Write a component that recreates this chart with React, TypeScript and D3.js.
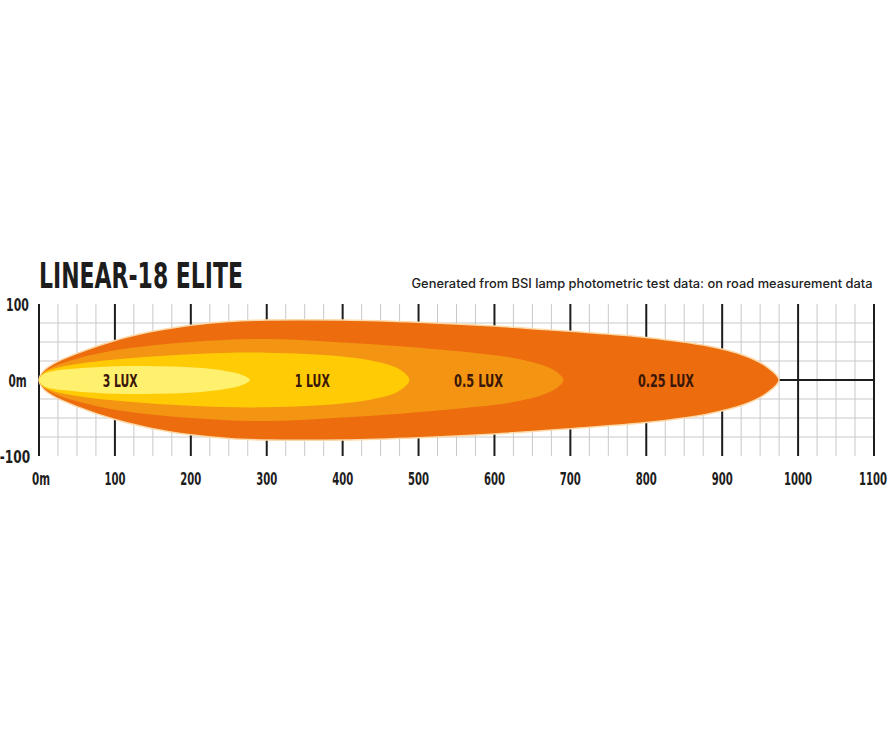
import React from "react";
import * as d3 from "d3";

// ---- data ----
const title = "LINEAR-18 ELITE";
const subtitle = "Generated from BSI lamp photometric test data: on road measurement data";
const xTicks = [0, 100, 200, 300, 400, 500, 600, 700, 800, 900, 1000, 1100];
const xTickLabels = ["0m", "100", "200", "300", "400", "500", "600", "700", "800", "900", "1000", "1100"];
const yTicks = [100, 0, -100];
const yTickLabels = ["100", "0m", "-100"];

// [distance (m), half-width (m)]
const lux025: [number, number][] = [
  [0, 0], [6, 12], [20, 22], [50, 35], [100, 52], [150, 64], [200, 72], [250, 77],
  [300, 79], [400, 79], [500, 76], [600, 71], [700, 64], [800, 56], [880, 45],
  [930, 32], [958, 18], [975, 0],
];
const lux05: [number, number][] = [
  [0, 0], [6, 10], [20, 18], [50, 28], [100, 39], [200, 50], [300, 54], [390, 50],
  [480, 44], [580, 35], [625, 29], [665, 19], [683, 10], [691, 0],
];
const lux1: [number, number][] = [
  [0, 0], [6, 9], [20, 15], [50, 21], [100, 27], [200, 34], [300, 36], [400, 31],
  [450, 23], [475, 14], [488, 0],
];
const lux3: [number, number][] = [
  [0, 0], [6, 8], [20, 12], [50, 15], [100, 18], [160, 18], [210, 16], [245, 12],
  [267, 7], [278, 0],
];
const zoneNames = ["0.25 LUX", "0.5 LUX", "1 LUX", "3 LUX"];
const zoneData = [lux025, lux05, lux1, lux3];
const zoneLabelAt = [826, 579, 360, 107];

const zoneColors = ["#EC6C0E", "#F39412", "#FFCB05", "#FFF06E"];

const W = 893;
const H = 744;
const condensed = "'Liberation Sans Narrow', 'DejaVu Sans Condensed', 'Roboto Condensed', 'Liberation Sans', sans-serif";

export default function App() {
  const x = d3.scaleLinear().domain([0, 1100]).range([39, 874]);
  const y = d3.scaleLinear().domain([-100, 100]).range([456, 304]);

  const minorX = d3.range(0, 1101, 25);
  const minorY = d3.range(-75, 76, 25);

  const closed = d3
    .line<[number, number]>()
    .x((p) => p[0])
    .y((p) => p[1])
    .curve(d3.curveCatmullRomClosed.alpha(0.5));

  const shapePath = (pts: [number, number][]) => {
    const top = pts.map(([d, h]) => [x(d), y(h)] as [number, number]);
    const bottom = pts
      .slice(1, -1)
      .reverse()
      .map(([d, h]) => [x(d), y(-h)] as [number, number]);
    return closed([...top, ...bottom]) || "";
  };

  const textW = (s: string, per: number) => s.length * per;

  return (
    <svg
      width={W}
      height={H}
      style={{ position: "absolute", left: 0, top: 0, background: "#fff" }}
    >
      <rect x={0} y={0} width={W} height={H} fill="#fff" />
      {/* minor grid */}
      {minorX.map((v) => (
        <line key={"mx" + v} x1={x(v)} x2={x(v)} y1={y(100)} y2={y(-100)} stroke="#c9c9c9" strokeWidth={1} />
      ))}
      {minorY.map((v) => (
        <line key={"my" + v} x1={x(0)} x2={x(1100)} y1={y(v)} y2={y(v)} stroke="#c9c9c9" strokeWidth={1} />
      ))}
      {/* major verticals */}
      {xTicks.map((v) => (
        <line key={"Mx" + v} x1={x(v)} x2={x(v)} y1={y(100)} y2={y(-100)} stroke="#1d1d1d" strokeWidth={2} />
      ))}
      {/* centre line */}
      <line x1={x(0)} x2={x(1100)} y1={y(0)} y2={y(0)} stroke="#1d1d1d" strokeWidth={2} />

      {/* beam zones */}
      {zoneData.map((pts, i) => (
        <path
          key={"z" + i}
          d={shapePath(pts)}
          fill={zoneColors[i]}
          stroke={i === 0 ? "#FCD9A8" : "none"}
          strokeWidth={i === 0 ? 1.5 : 0}
        />
      ))}

      {/* zone labels */}
      {zoneNames.map((n, i) => (
        <text
          key={"zl" + i}
          x={x(zoneLabelAt[i])}
          y={y(0) + 6.5}
          textAnchor="middle"
          fontFamily={condensed}
          fontWeight="bold"
          fontSize={18}
          fill="#3a1708"
          textLength={textW(n, 7)}
          lengthAdjust="spacingAndGlyphs"
        >
          {n}
        </text>
      ))}

      {/* x tick labels */}
      {xTicks.map((v, i) => (
        <text
          key={"xl" + v}
          x={x(v) + (i === 0 ? 2 : i === xTicks.length - 1 ? -1 : 0)}
          y={485}
          textAnchor="middle"
          fontFamily={condensed}
          fontWeight="bold"
          fontSize={18}
          fill="#1d1d1d"
          textLength={xTickLabels[i].length * 7 + (i === 0 ? 4 : 0)}
          lengthAdjust="spacingAndGlyphs"
        >
          {xTickLabels[i]}
        </text>
      ))}

      {/* y tick labels */}
      {yTicks.map((v, i) => (
        <text
          key={"yl" + v}
          x={i === 2 ? 15 : 17.5}
          y={y(v) + 6.5}
          textAnchor="middle"
          fontFamily={condensed}
          fontWeight="bold"
          fontSize={18}
          fill="#1d1d1d"
          textLength={yTickLabels[i].length * 7.6 + (i === 1 ? 3 : 0)}
          lengthAdjust="spacingAndGlyphs"
        >
          {yTickLabels[i]}
        </text>
      ))}

      {/* title */}
      <text
        x={39}
        y={288}
        fontFamily={condensed}
        fontWeight="bold"
        fontSize={35}
        fill="#1d1d1d"
        textLength={204}
        lengthAdjust="spacingAndGlyphs"
      >
        {title}
      </text>
      <text
        x={411.5}
        y={288}
        fontFamily="Inter, 'Noto Sans', sans-serif"
        fontWeight={500}
        fontSize={12.5}
        fill="#222"
        textLength={461}
        lengthAdjust="spacingAndGlyphs"
      >
        {subtitle}
      </text>
    </svg>
  );
}
